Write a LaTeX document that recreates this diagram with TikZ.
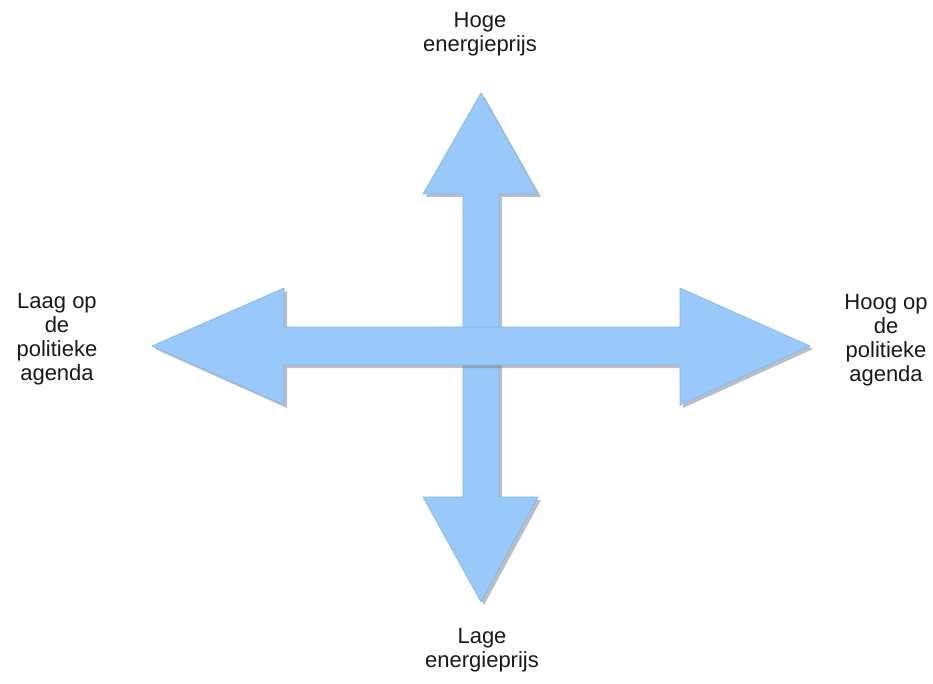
\documentclass[tikz,border=0pt]{standalone}
\usepackage{fontspec}
\setmainfont{Liberation Sans}
\definecolor{arrowblue}{RGB}{153,201,250}
\definecolor{arrowedge}{RGB}{128,180,235}
\definecolor{shadowgray}{RGB}{120,125,135}
\begin{document}
\begin{tikzpicture}[x=1pt,y=-1pt,
  arrowfill/.style={fill=arrowblue,draw=arrowedge,line width=0.6pt,line join=miter},
  arrowshadow/.style={fill=shadowgray,opacity=0.5,xshift=3pt,yshift=-3pt},
  label/.style={align=center,font=\fontsize{22}{24}\selectfont,text=black!90,inner sep=0pt}]
\useasboundingbox (0,0) rectangle (933,684);
% vertical double arrow
\def\vpath{(481,93) -- (538,194) -- (499,194) -- (499,497) -- (538,497) -- (481,602) -- (423,497) -- (463,497) -- (463,194) -- (423,194) -- cycle}
\fill[arrowshadow] \vpath;
\path[arrowfill] \vpath;
% horizontal double arrow
\def\hpath{(152,346) -- (284,288) -- (284,327) -- (680,327) -- (680,288) -- (810,346) -- (680,405) -- (680,365) -- (284,365) -- (284,405) -- cycle}
\fill[arrowshadow] \hpath;
\path[arrowfill] \hpath;
% labels
\node[label] (top) at (480,34) {Hoge\\energieprijs};
\node[label] (bottom) at (482,650) {Lage\\energieprijs};
\node[label] (left) at (57,339) {Laag op\\de\\politieke\\agenda};
\node[label] (right) at (886,340) {Hoog op\\de\\politieke\\agenda};
\end{tikzpicture}
\end{document}
